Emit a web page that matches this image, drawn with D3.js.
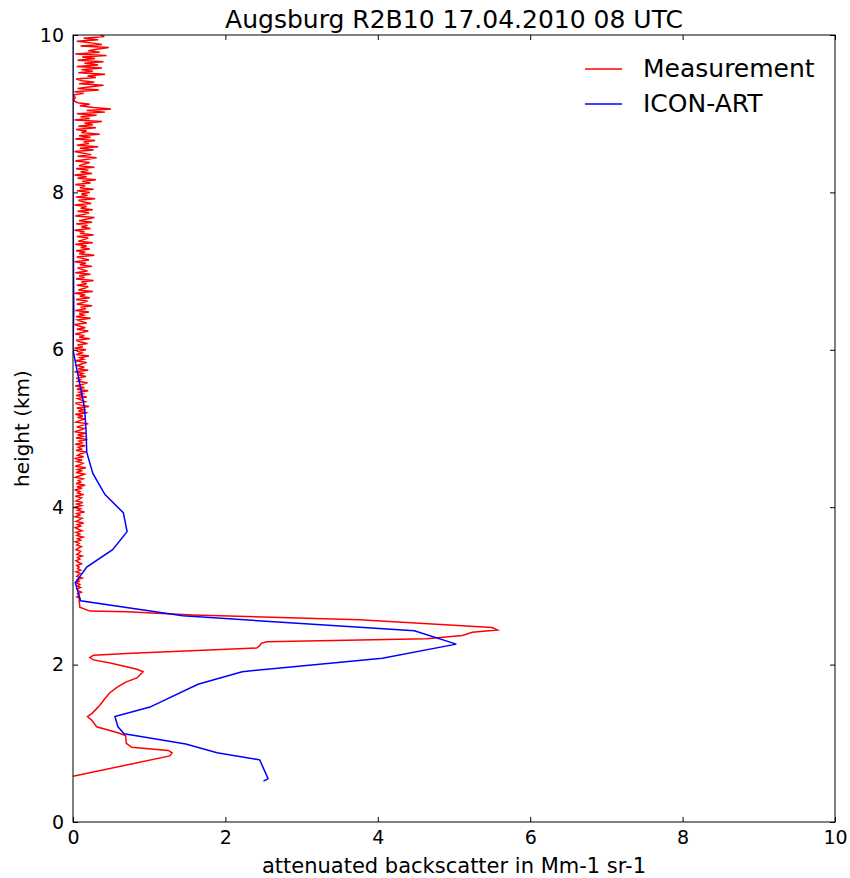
<!DOCTYPE html>
<html>
<head>
    <title>Augsburg R2B10</title>
    <script src="https://d3js.org/d3.v7.min.js"></script>
    <style>
        body { margin: 0; background: #fff; }
        text { font-family: "DejaVu Sans", sans-serif; fill: #000; }
    </style>
</head>
<body>
<svg width="850" height="878"></svg>
<script>
    // chart data
    var title = "Augsburg R2B10 17.04.2010 08 UTC";
    var xTicks = [0, 2, 4, 6, 8, 10];
    var yTicks = [0, 2, 4, 6, 8, 10];

    // ICON-ART profile: [backscatter, height km]
    var icon = [
        [2.50, 0.52], [2.56, 0.55], [2.45, 0.79], [1.89, 0.88], [1.48, 0.99],
        [0.87, 1.09], [0.67, 1.12], [0.59, 1.21], [0.55, 1.34], [1.01, 1.46],
        [1.64, 1.75], [2.22, 1.91], [4.06, 2.08], [5.03, 2.26], [4.48, 2.43],
        [1.44, 2.62], [0.10, 2.81], [0.03, 3.04], [0.18, 3.24], [0.52, 3.46],
        [0.71, 3.69], [0.66, 3.93], [0.42, 4.16], [0.26, 4.43], [0.18, 4.70],
        [0.17, 5.00], [0.15, 5.27], [0.00, 6.00], [0.01, 6.50], [0.00, 8.00],
        [0.00, 10.00]
    ];

    // Measurement profile, lower part: [backscatter, height km]
    var measLow = [
        [0.00, 0.58], [1.27, 0.84], [1.30, 0.88], [1.25, 0.91], [0.77, 0.95],
        [0.70, 1.00], [0.69, 1.10], [0.60, 1.13], [0.31, 1.21], [0.25, 1.29],
        [0.19, 1.34], [0.25, 1.38], [0.32, 1.45], [0.35, 1.48], [0.42, 1.57],
        [0.48, 1.64], [0.59, 1.72], [0.70, 1.78], [0.84, 1.83], [0.88, 1.87],
        [0.92, 1.91], [0.84, 1.94], [0.49, 2.02], [0.27, 2.06], [0.22, 2.09],
        [0.27, 2.12], [0.70, 2.14], [2.41, 2.21], [2.45, 2.24], [2.47, 2.27],
        [2.54, 2.29], [4.64, 2.33], [5.11, 2.37], [5.24, 2.41], [5.57, 2.44],
        [5.50, 2.47], [3.76, 2.57], [1.57, 2.63], [0.70, 2.67], [0.22, 2.68],
        [0.09, 2.73], [0.08, 2.82]
    ];

    // Measurement profile, noisy upper part: range gates every 20 m from 2.84 km
    var gateStart = 2.84;
    var gateStep = 0.02;
    var measNoise = [
        0.09, 0.05, 0.08, 0.06, 0.11, 0.07, 0.05, 0.10, 0.06, 0.09,   // 2.84
        0.04, 0.08, 0.06, 0.12, 0.05, 0.07, 0.09, 0.04, 0.10, 0.06,   // 3.04
        0.08, 0.05, 0.11, 0.07, 0.04, 0.09, 0.06, 0.12, 0.05, 0.08,   // 3.24
        0.10, 0.04, 0.07, 0.11, 0.05, 0.08, 0.03, 0.10, 0.06, 0.13,   // 3.44
        0.05, 0.09, 0.04, 0.12, 0.07, 0.03, 0.10, 0.06, 0.14, 0.04,   // 3.64
        0.08, 0.12, 0.03, 0.09, 0.05, 0.15, 0.06, 0.10, 0.02, 0.11,   // 3.84
        0.05, 0.13, 0.04, 0.08, 0.11, 0.03, 0.14, 0.06, 0.09, 0.02,   // 4.04
        0.12, 0.05, 0.16, 0.04, 0.10, 0.07, 0.13, 0.03, 0.09, 0.15,   // 4.24
        0.04, 0.11, 0.06, 0.17, 0.03, 0.09, 0.13, 0.05, 0.12, 0.02,   // 4.44
        0.14, 0.06, 0.10, 0.18, 0.04, 0.11, 0.07, 0.16, 0.03, 0.12,   // 4.64
        0.08, 0.19, 0.04, 0.13, 0.06, 0.17, 0.02, 0.10, 0.15, 0.05,   // 4.84
        0.12, 0.20, 0.04, 0.09, 0.16, 0.06, 0.13, 0.03, 0.19, 0.07,   // 5.04
        0.14, 0.05, 0.21, 0.09, 0.03, 0.16, 0.11, 0.06, 0.18, 0.04,   // 5.24
        0.13, 0.08, 0.20, 0.05, 0.15, 0.03, 0.12, 0.19, 0.06, 0.10,   // 5.44
        0.04, 0.17, 0.08, 0.13, 0.02, 0.20, 0.07, 0.15, 0.05, 0.11,   // 5.64
        0.18, 0.03, 0.14, 0.09, 0.21, 0.04, 0.12, 0.07, 0.17, 0.02,   // 5.84
        0.13, 0.06, 0.19, 0.10, 0.04, 0.22, 0.08, 0.15, 0.03, 0.12,   // 6.04
        0.20, 0.05, 0.16, 0.09, 0.02, 0.18, 0.11, 0.06, 0.23, 0.04,   // 6.24
        0.14, 0.08, 0.21, 0.03, 0.17, 0.10, 0.25, 0.05, 0.13, 0.19,   // 6.44
        0.04, 0.22, 0.09, 0.16, 0.02, 0.26, 0.07, 0.14, 0.20, 0.05,   // 6.64
        0.18, 0.11, 0.27, 0.04, 0.15, 0.08, 0.23, 0.03, 0.19, 0.12,   // 6.84
        0.06, 0.25, 0.09, 0.17, 0.02, 0.21, 0.13, 0.05, 0.28, 0.08,   // 7.04
        0.16, 0.04, 0.22, 0.10, 0.18, 0.03, 0.26, 0.07, 0.14, 0.20,   // 7.24
        0.05, 0.27, 0.09, 0.15, 0.02, 0.23, 0.11, 0.19, 0.04, 0.25,   // 7.44
        0.08, 0.17, 0.28, 0.03, 0.14, 0.21, 0.06, 0.26, 0.10, 0.18,   // 7.64
        0.02, 0.24, 0.13, 0.07, 0.29, 0.04, 0.19, 0.11, 0.22, 0.05,   // 7.84
        0.27, 0.09, 0.16, 0.03, 0.23, 0.12, 0.30, 0.06, 0.18, 0.02,   // 8.04
        0.25, 0.10, 0.20, 0.04, 0.28, 0.08, 0.15, 0.22, 0.03, 0.19,   // 8.24
        0.31, 0.06, 0.24, 0.12, 0.02, 0.27, 0.09, 0.33, 0.05, 0.21,   // 8.44
        0.14, 0.29, 0.03, 0.23, 0.08, 0.35, 0.11, 0.18, 0.04, 0.30,   // 8.64
        0.07, 0.26, 0.15, 0.38, 0.02, 0.22, 0.10, 0.31, 0.05, 0.42,   // 8.84
        0.18, 0.50, 0.27, 0.09, 0.22, 0.06, 0.02, 0.01, 0.03, 0.02,   // 9.04
        0.01, 0.14, 0.02, 0.34, 0.06, 0.21, 0.40, 0.08, 0.28, 0.12,   // 9.24
        0.04, 0.30, 0.19, 0.42, 0.07, 0.26, 0.11, 0.38, 0.05, 0.33,   // 9.44
        0.15, 0.40, 0.06, 0.29, 0.12, 0.44, 0.03, 0.35, 0.20, 0.31,   // 9.64
        0.47, 0.10, 0.38, 0.24, 0.05, 0.33, 0.14, 0.41, 0.36          // 9.84
    ];

    var legend = [
        {name: "Measurement", color: "#ff0000"},
        {name: "ICON-ART", color: "#0000ff"}
    ];

    var svg = d3.select("svg");
    var margin = {top: 35, right: 15, bottom: 56, left: 73};
    var width = 850 - margin.left - margin.right,
        height = 878 - margin.top - margin.bottom;

    var x = d3.scaleLinear().domain([0, 10]).range([0, width]);
    var y = d3.scaleLinear().domain([0, 10]).range([height, 0]);

    var g = svg.append("g")
        .attr("transform", "translate(" + margin.left + "," + margin.top + ")");

    svg.append("defs").append("clipPath").attr("id", "clip")
        .append("rect").attr("width", width).attr("height", height);

    var meas = measLow.concat(measNoise.map(function (v, i) {
        return [v, gateStart + i * gateStep];
    }));

    var line = d3.line()
        .x(function (d) { return x(d[0]); })
        .y(function (d) { return y(d[1]); });

    var plot = g.append("g").attr("clip-path", "url(#clip)");

    plot.append("path")
        .datum(meas)
        .attr("fill", "none")
        .attr("stroke", "#ff0000")
        .attr("stroke-width", 1.5)
        .attr("d", line);

    plot.append("path")
        .datum(icon)
        .attr("fill", "none")
        .attr("stroke", "#0000ff")
        .attr("stroke-width", 1.5)
        .attr("d", line);

    // axes, ticks inside on all four sides
    function styleAxis(sel) {
        sel.select(".domain").remove();
        sel.selectAll(".tick line").attr("stroke", "#000");
        sel.selectAll(".tick text").style("font-size", "19px");
    }

    g.append("g")
        .attr("transform", "translate(0," + height + ")")
        .call(d3.axisBottom(x).tickValues(xTicks).tickSizeInner(-5).tickSizeOuter(0).tickPadding(9))
        .call(styleAxis);

    g.append("g")
        .call(d3.axisTop(x).tickValues(xTicks).tickSizeInner(-5).tickSizeOuter(0).tickFormat(""))
        .call(styleAxis);

    g.append("g")
        .call(d3.axisLeft(y).tickValues(yTicks).tickSizeInner(-5).tickSizeOuter(0).tickPadding(9))
        .call(styleAxis);

    g.append("g")
        .attr("transform", "translate(" + width + ",0)")
        .call(d3.axisRight(y).tickValues(yTicks).tickSizeInner(-5).tickSizeOuter(0).tickFormat(""))
        .call(styleAxis);

    g.append("rect")
        .attr("width", width)
        .attr("height", height)
        .attr("fill", "none")
        .attr("stroke", "#000")
        .attr("stroke-width", 1);

    // labels
    svg.append("text")
        .attr("x", margin.left + width / 2)
        .attr("y", 28)
        .attr("text-anchor", "middle")
        .style("font-size", "25px")
        .text(title);

    svg.append("text")
        .attr("x", margin.left + width / 2)
        .attr("y", 873)
        .attr("text-anchor", "middle")
        .style("font-size", "21px")
        .text("attenuated backscatter in Mm-1 sr-1");

    svg.append("text")
        .attr("transform", "translate(29," + (margin.top + height / 2) + ") rotate(-90)")
        .attr("text-anchor", "middle")
        .style("font-size", "20px")
        .text("height (km)");

    // legend
    var leg = svg.append("g").attr("transform", "translate(585,69)");
    leg.selectAll("line")
        .data(legend)
        .enter().append("line")
        .attr("x1", 0).attr("x2", 37)
        .attr("y1", function (d, i) { return i * 35; })
        .attr("y2", function (d, i) { return i * 35; })
        .attr("stroke", function (d) { return d.color; })
        .attr("stroke-width", 1.5);
    leg.selectAll("text")
        .data(legend)
        .enter().append("text")
        .attr("x", 58)
        .attr("y", function (d, i) { return i * 35 + 8; })
        .style("font-size", "25px")
        .text(function (d) { return d.name; });
</script>
</body>
</html>
